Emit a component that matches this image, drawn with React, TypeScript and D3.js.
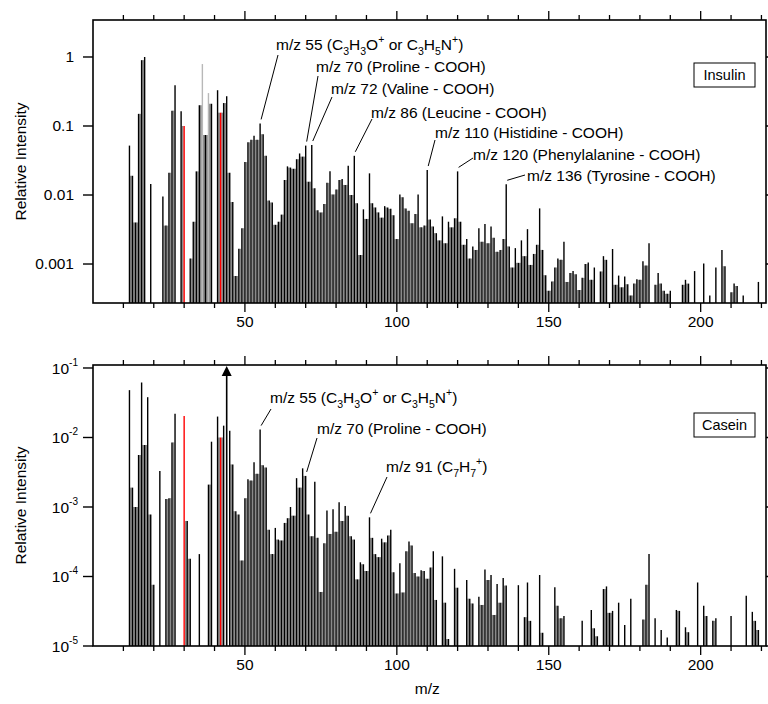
import React from "react";
import { scaleLinear, scaleLog, range } from "d3";

// [m/z, relative intensity]
const insulinPeaks: [number, number][] = [
  [12, 0.052], [13, 0.019], [14, 0.004], [15, 0.15], [16, 0.9], [17, 1.0], [19, 0.0144],
  [23, 0.0095], [24, 0.0036], [25, 0.021], [26, 0.167], [27, 0.39], [29, 0.163], [30, 0.1],
  [32, 0.0012], [33, 0.0041], [34, 0.022], [35, 0.2], [36, 0.79], [37, 0.074], [38, 0.3],
  [39, 0.21], [41, 0.33], [42, 0.156], [43, 0.215], [44, 0.27], [45, 0.021], [46, 0.0079],
  [47, 0.00067], [48, 0.00166], [49, 0.0033], [50, 0.03], [51, 0.058], [52, 0.063], [53, 0.072],
  [54, 0.063], [55, 0.109], [56, 0.076], [57, 0.037], [58, 0.0083], [59, 0.0078], [60, 0.0037],
  [61, 0.0041], [62, 0.0052], [63, 0.0165], [64, 0.026], [65, 0.025], [66, 0.024], [67, 0.033],
  [68, 0.04], [69, 0.036], [70, 0.052], [71, 0.0156], [72, 0.053], [73, 0.0125], [74, 0.006],
  [75, 0.0056], [76, 0.0074], [77, 0.015], [78, 0.022], [79, 0.0102], [80, 0.012], [81, 0.0165],
  [82, 0.017], [83, 0.014], [84, 0.0266], [85, 0.01], [86, 0.037], [87, 0.0076], [88, 0.00135],
  [89, 0.0062], [90, 0.0045], [91, 0.0206], [92, 0.0076], [93, 0.0066], [94, 0.0056], [95, 0.0047],
  [96, 0.0069], [97, 0.0066], [98, 0.0063], [99, 0.0051], [100, 0.0023], [101, 0.0102], [102, 0.0093],
  [103, 0.0064], [104, 0.0059], [105, 0.0039], [106, 0.0053], [107, 0.0102], [108, 0.0034],
  [109, 0.0036], [110, 0.023], [111, 0.0044], [112, 0.0035], [113, 0.0028], [114, 0.0022],
  [115, 0.0049], [116, 0.002], [117, 0.0041], [118, 0.0034], [119, 0.0046], [120, 0.022],
  [121, 0.0041], [122, 0.0019], [123, 0.0023], [124, 0.0012], [125, 0.0018], [126, 0.0016],
  [127, 0.0033], [128, 0.0021], [129, 0.0038], [130, 0.002], [131, 0.0035], [132, 0.0024],
  [133, 0.0015], [134, 0.0016], [135, 0.0023], [136, 0.0143], [137, 0.0018], [138, 0.00089],
  [139, 0.0017], [140, 0.00104], [141, 0.0022], [142, 0.0013], [143, 0.0032], [144, 0.00097],
  [145, 0.0014], [146, 0.0019], [147, 0.0064], [148, 0.0016], [149, 0.00069], [150, 0.00041],
  [151, 0.00056], [152, 0.00089], [153, 0.0012], [154, 0.00115], [155, 0.0021], [156, 0.00055],
  [157, 0.00074], [158, 0.00079], [159, 0.00071], [160, 0.00042], [161, 0.00063], [162, 0.001],
  [163, 0.00105], [164, 0.00059], [165, 0.00089], [167, 0.00078], [168, 0.0013], [169, 0.00115],
  [171, 0.00165], [172, 0.0005], [173, 0.00068], [174, 0.00046], [175, 0.00066], [176, 0.00051],
  [177, 0.00035], [178, 0.00052], [179, 0.0006], [180, 0.00059], [181, 0.0011], [182, 0.00095],
  [183, 0.002], [185, 0.0005], [186, 0.00074], [187, 0.00052], [188, 0.00041], [189, 0.00037],
  [190, 0.00041], [194, 0.0005], [195, 0.00059], [196, 0.00052], [198, 0.00079], [201, 0.00102],
  [203, 0.00035], [205, 0.00089], [207, 0.0016], [208, 0.00093], [210, 0.00039], [211, 0.00052],
  [212, 0.00048], [214, 0.00035], [219, 0.00055],
];
const insulinRed = [30, 42];
const insulinLight = [36, 38];

const caseinPeaks: [number, number][] = [
  [12, 0.048], [13, 0.0019], [14, 0.001], [15, 0.0056], [16, 0.062], [17, 0.0078], [18, 0.038],
  [19, 0.00078], [20, 0.000076], [22, 0.0033], [24, 0.0013], [25, 0.00134], [26, 0.0085],
  [27, 0.022], [30, 0.0204], [31, 0.00063], [32, 0.00018], [35, 0.00021], [38, 0.0021],
  [39, 0.0087], [41, 0.02], [42, 0.01], [43, 0.0148], [45, 0.0125], [46, 0.0041], [47, 0.00087],
  [48, 0.00078], [49, 0.00017], [50, 0.00134], [51, 0.0025], [52, 0.0024], [53, 0.0044],
  [54, 0.003], [55, 0.013], [56, 0.004], [57, 0.0037], [58, 0.00047], [59, 0.00021], [60, 0.0005],
  [61, 0.00034], [62, 0.00033], [63, 0.00059], [64, 0.00069], [65, 0.001], [66, 0.00075],
  [67, 0.0026], [68, 0.0019], [69, 0.0036], [70, 0.0028], [71, 0.00078], [72, 0.00038],
  [73, 0.0023], [74, 0.00036], [75, 0.00006], [76, 0.0003], [77, 0.00089], [78, 0.00041],
  [79, 0.00093], [80, 0.00044], [81, 0.00117], [82, 0.00063], [83, 0.00103], [84, 0.00075],
  [85, 0.00038], [86, 0.00034], [87, 0.000091], [88, 0.00016], [89, 0.00015], [90, 0.00012],
  [91, 0.00071], [92, 0.00036], [93, 0.00021], [94, 0.00019], [95, 0.00035], [96, 0.00031],
  [97, 0.00039], [98, 0.00047], [99, 0.000115], [100, 0.000057], [101, 0.000155], [102, 0.000059],
  [103, 0.00023], [104, 0.00032], [105, 0.00028], [106, 0.000112], [107, 0.0001], [108, 0.000123],
  [109, 0.00012], [110, 0.000093], [111, 0.000135], [112, 0.00023], [113, 0.000046],
  [115, 0.000195], [116, 0.000042], [117, 0.0000126], [119, 0.000129], [120, 0.000069],
  [123, 0.000089], [124, 0.000048], [125, 0.000041], [127, 0.000051], [128, 0.000039],
  [129, 0.000126], [130, 0.000089], [131, 0.000105], [132, 0.000028], [133, 0.000078],
  [134, 0.000042], [135, 0.000095], [136, 0.000074], [140, 0.000075], [142, 0.000026],
  [143, 0.000082], [144, 0.000023], [147, 0.000105], [148, 0.0000155], [152, 0.00007],
  [153, 0.000038], [154, 0.000025], [155, 0.000027], [161, 0.000023], [164, 0.000033],
  [165, 0.000018], [166, 0.0000138], [168, 0.000066], [169, 0.000072], [170, 0.00003],
  [171, 0.000032], [173, 0.000042], [175, 0.00002], [177, 0.000048], [181, 0.000024],
  [182, 0.000076], [183, 0.00021], [185, 0.000025], [187, 0.000017], [189, 0.0000132],
  [192, 0.000033], [193, 0.000032], [195, 0.0000186], [196, 0.0000158], [199, 0.000082],
  [201, 0.000038], [202, 0.000027], [204, 0.000023], [205, 0.000025], [210, 0.000027],
  [215, 0.000053], [217, 0.000031], [218, 0.000023], [219, 0.000017],
];
const caseinRed = [30, 42];
const caseinOffscale = [44];

const xTickLabels = [50, 100, 150, 200];
const insulinYTicks = [1, 0.1, 0.01, 0.001];
const insulinYLabels = ["1", "0.1", "0.01", "0.001"];
const caseinYTicks = [1e-1, 1e-2, 1e-3, 1e-4, 1e-5];
const caseinYExponents = ["-1", "-2", "-3", "-4", "-5"];

type Seg = { t: string; s?: "sub" | "sup" };
const c3h3o_c3h5n: Seg[] = [
  { t: "m/z 55 (C" }, { t: "3", s: "sub" }, { t: "H" }, { t: "3", s: "sub" }, { t: "O" },
  { t: "+", s: "sup" }, { t: " or C" }, { t: "3", s: "sub" }, { t: "H" }, { t: "5", s: "sub" },
  { t: "N" }, { t: "+", s: "sup" }, { t: ")" },
];
const insulinNotes: { mz: number; text: Seg[] }[] = [
  { mz: 55, text: c3h3o_c3h5n },
  { mz: 70, text: [{ t: "m/z 70 (Proline - COOH)" }] },
  { mz: 72, text: [{ t: "m/z 72 (Valine - COOH)" }] },
  { mz: 86, text: [{ t: "m/z 86 (Leucine - COOH)" }] },
  { mz: 110, text: [{ t: "m/z 110 (Histidine - COOH)" }] },
  { mz: 120, text: [{ t: "m/z 120 (Phenylalanine - COOH)" }] },
  { mz: 136, text: [{ t: "m/z 136 (Tyrosine - COOH)" }] },
];
const caseinNotes: { mz: number; text: Seg[] }[] = [
  { mz: 55, text: c3h3o_c3h5n },
  { mz: 70, text: [{ t: "m/z 70 (Proline - COOH)" }] },
  { mz: 91, text: [{ t: "m/z 91 (C" }, { t: "7", s: "sub" }, { t: "H" }, { t: "7", s: "sub" }, { t: "+", s: "sup" }, { t: ")" }] },
];

// where each annotation label sits: text start x, baseline y, leader start
const insulinNoteLayout = [
  { x: 276, y: 50, lx: 278, ly: 55 },
  { x: 316, y: 72, lx: 318, ly: 76 },
  { x: 331, y: 94, lx: 332, ly: 97 },
  { x: 371, y: 118, lx: 372, ly: 119 },
  { x: 435, y: 138, lx: 435, ly: 140 },
  { x: 473, y: 160, lx: 473, ly: 158 },
  { x: 527, y: 181, lx: 525, ly: 175 },
];
const caseinNoteLayout = [
  { x: 270, y: 403, lx: 271, ly: 409 },
  { x: 317, y: 434, lx: 317, ly: 438 },
  { x: 386, y: 472, lx: 387, ly: 477 },
];

const FONT = "'Liberation Sans', Arial, Helvetica, sans-serif";
const FS = 15.5;

function RichText({ x, y, segs, size }: { x: number; y: number; segs: Seg[]; size: number }) {
  let shift = 0;
  const spans = segs.map((sg, i) => {
    const target = sg.s === "sub" ? size * 0.3 : sg.s === "sup" ? -size * 0.42 : 0;
    const dy = target - shift;
    shift = target;
    return (
      <tspan key={i} dy={dy} fontSize={sg.s ? size * 0.68 : size}>
        {sg.t}
      </tspan>
    );
  });
  return (
    <text x={x} y={y} fontSize={size} fontFamily={FONT} fill="#000">
      {spans}
    </text>
  );
}

const x = scaleLinear().domain([0, 221.5]).range([93, 766]);
const xMinor = range(10, 221, 10);

function Spectrum({
  peaks, y, top, bottom, red, light, notes, layout, legend, legendY, offscale,
}: {
  peaks: [number, number][];
  y: any;
  top: number;
  bottom: number;
  red: number[];
  light: number[];
  notes: { mz: number; text: Seg[] }[];
  layout: { x: number; y: number; lx: number; ly: number }[];
  legend: string;
  legendY: number;
  offscale: number[];
}) {
  const val = new Map(peaks);
  const fills = peaks.filter(([m]) => val.has(m + 1));
  return (
    <g>
      {/* gray shading between neighbouring sticks */}
      {fills.map(([m, v]) => (
        <rect
          key={"f" + m}
          x={x(m) + 0.6}
          width={x(m + 1) - x(m) - 1.2}
          y={y(Math.min(v, val.get(m + 1) as number))}
          height={bottom - y(Math.min(v, val.get(m + 1) as number))}
          fill="#8a8a8a"
        />
      ))}
      {peaks.map(([m, v]) => (
        <line
          key={"b" + m}
          x1={x(m)}
          x2={x(m)}
          y1={bottom}
          y2={y(v)}
          stroke={red.includes(m) ? "#ff0000" : light.includes(m) ? "#b8b8b8" : "#000"}
          strokeWidth={1.4}
        />
      ))}
      {offscale.map((m) => (
        <g key={"o" + m}>
          <line x1={x(m)} x2={x(m)} y1={bottom} y2={top + 10} stroke="#000" strokeWidth={1.6} />
          <path d={`M${x(m)},${top + 1} L${x(m) - 5},${top + 11} L${x(m) + 5},${top + 11} Z`} fill="#000" />
        </g>
      ))}
      {/* frame */}
      <rect x={93} y={top} width={766 - 93} height={bottom - top} fill="none" stroke="#000" strokeWidth={1.6} />
      {/* x ticks, top and bottom, outward */}
      {xMinor.map((t) => {
        const len = t % 50 === 0 ? 9 : 5;
        return (
          <g key={"xt" + t} stroke="#000" strokeWidth={1.3}>
            <line x1={x(t)} x2={x(t)} y1={top} y2={top - len} />
            <line x1={x(t)} x2={x(t)} y1={bottom} y2={bottom + len} />
          </g>
        );
      })}
      {xTickLabels.map((t) => (
        <text key={"xl" + t} x={x(t)} y={bottom + 24} textAnchor="middle" fontSize={FS} fontFamily={FONT}>
          {t}
        </text>
      ))}
      {/* annotations */}
      {notes.map((n, i) => {
        const L = layout[i];
        return (
          <g key={"n" + n.mz}>
            <line x1={L.lx} y1={L.ly} x2={x(n.mz) + 1} y2={y(val.get(n.mz) as number) - 4} stroke="#000" strokeWidth={1} />
            <RichText x={L.x} y={L.y} segs={n.text} size={FS} />
          </g>
        );
      })}
      <rect x={694} y={legendY} width={61} height={24} fill="#fff" stroke="#000" strokeWidth={1} />
      <text x={724.5} y={legendY + 17} textAnchor="middle" fontSize={FS - 1} fontFamily={FONT}>
        {legend}
      </text>
      <text
        transform={`translate(26,${(top + bottom) / 2}) rotate(-90)`}
        textAnchor="middle"
        fontSize={FS}
        fontFamily={FONT}
      >
        Relative Intensity
      </text>
    </g>
  );
}

export default function App() {
  const yTop = scaleLog().domain([Math.pow(10, -3.565), Math.pow(10, 0.536)]).range([303, 20]);
  const yBot = scaleLog().domain([1e-5, Math.pow(10, -0.957)]).range([646, 365]);

  return (
    <svg width={768} height={704} style={{ position: "absolute", left: 0, top: 0, background: "#fff" }}>
      <rect width={768} height={704} fill="#fff" />
      <Spectrum
        peaks={insulinPeaks}
        y={yTop}
        top={20}
        bottom={303}
        red={insulinRed}
        light={insulinLight}
        notes={insulinNotes}
        layout={insulinNoteLayout}
        legend="Insulin"
        legendY={63}
        offscale={[]}
      />
      {insulinYTicks.map((t, i) => (
        <g key={"yt" + t}>
          <line x1={83} x2={93} y1={yTop(t)} y2={yTop(t)} stroke="#000" strokeWidth={1.4} />
          <line x1={766} x2={775} y1={yTop(t)} y2={yTop(t)} stroke="#000" strokeWidth={1.4} />
          <text x={74} y={yTop(t) + 5} textAnchor="end" fontSize={FS} fontFamily={FONT}>
            {insulinYLabels[i]}
          </text>
        </g>
      ))}
      <Spectrum
        peaks={caseinPeaks}
        y={yBot}
        top={365}
        bottom={646}
        red={caseinRed}
        light={[]}
        notes={caseinNotes}
        layout={caseinNoteLayout}
        legend="Casein"
        legendY={413}
        offscale={caseinOffscale}
      />
      {caseinYTicks.map((t, i) => (
        <g key={"yb" + t}>
          <line x1={83} x2={93} y1={yBot(t)} y2={yBot(t)} stroke="#000" strokeWidth={1.4} />
          <line x1={766} x2={775} y1={yBot(t)} y2={yBot(t)} stroke="#000" strokeWidth={1.4} />
          <text x={78} y={yBot(t) + 6} textAnchor="end" fontSize={FS} fontFamily={FONT}>
            <tspan>10</tspan>
            <tspan dy={-8} fontSize={10}>
              {caseinYExponents[i]}
            </tspan>
          </text>
        </g>
      ))}
      <text x={x(110)} y={694} textAnchor="middle" fontSize={FS} fontFamily={FONT}>
        m/z
      </text>
    </svg>
  );
}
